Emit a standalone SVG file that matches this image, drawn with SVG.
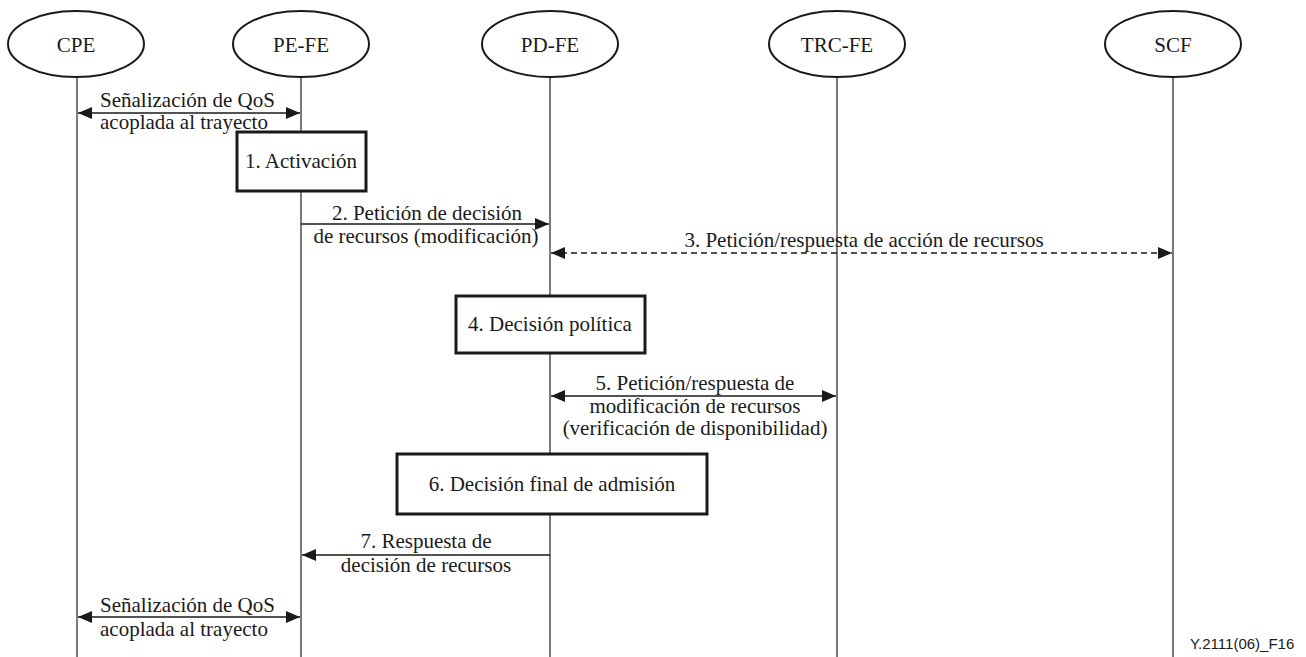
<svg xmlns="http://www.w3.org/2000/svg" width="1306" height="657" viewBox="0 0 1306 657">
<style>
.ent{fill:#fff;stroke:#1a1a1a;stroke-width:2}
.life{stroke:#333;stroke-width:1.3;fill:none}
.box{fill:#fff;stroke:#1a1a1a;stroke-width:3}
.msg{stroke:#1a1a1a;stroke-width:1.3;fill:none}
.dash{stroke-dasharray:6,4}
.t{font-family:'Liberation Serif','Times New Roman',serif;font-size:21px;fill:#1a1a1a}
.c{text-anchor:middle}
.ref{font-family:'Liberation Sans',Arial,sans-serif;font-size:15px;fill:#1a1a1a}
</style>
<defs>
<marker id="ah" viewBox="0 0 14 12" refX="14" refY="6" markerWidth="14" markerHeight="12" markerUnits="userSpaceOnUse" orient="auto-start-reverse">
<path d="M0,0 L14,6 L0,12 z" fill="#1a1a1a"/>
</marker>
</defs>
<rect width="1306" height="657" fill="#fff"/>
<g id="lifelines">
<line class="life" x1="77" y1="76" x2="77" y2="657"/>
<line class="life" x1="301" y1="76" x2="301" y2="657"/>
<line class="life" x1="550" y1="76" x2="550" y2="657"/>
<line class="life" x1="837" y1="76" x2="837" y2="657"/>
<line class="life" x1="1173" y1="76" x2="1173" y2="657"/>
</g>
<g id="CPE"><ellipse class="ent" cx="76" cy="44" rx="68" ry="33"/><text class="t c" x="76" y="52">CPE</text></g>
<g id="PE-FE"><ellipse class="ent" cx="301" cy="44" rx="68" ry="33"/><text class="t c" x="301" y="52">PE-FE</text></g>
<g id="PD-FE"><ellipse class="ent" cx="550" cy="44" rx="68" ry="33"/><text class="t c" x="550" y="52">PD-FE</text></g>
<g id="TRC-FE"><ellipse class="ent" cx="837" cy="44" rx="68" ry="33"/><text class="t c" x="837" y="52">TRC-FE</text></g>
<g id="SCF"><ellipse class="ent" cx="1173" cy="44" rx="68" ry="33"/><text class="t c" x="1173" y="52">SCF</text></g>
<g id="connectors">
<line class="msg" x1="78" y1="113" x2="300" y2="113" marker-start="url(#ah)" marker-end="url(#ah)"/>
<line class="msg" x1="301" y1="224" x2="549" y2="224" marker-end="url(#ah)"/>
<line class="msg dash" x1="551" y1="253" x2="1172" y2="253" marker-start="url(#ah)" marker-end="url(#ah)"/>
<line class="msg" x1="551" y1="396" x2="836" y2="396" marker-start="url(#ah)" marker-end="url(#ah)"/>
<line class="msg" x1="550" y1="555" x2="302" y2="555" marker-end="url(#ah)"/>
<line class="msg" x1="78" y1="617" x2="300" y2="617" marker-start="url(#ah)" marker-end="url(#ah)"/>
</g>
<g id="labels">
<text class="t" x="100" y="107">Señalización de QoS</text>
<text class="t" x="100" y="129">acoplada al trayecto</text>
<text class="t c" x="427" y="220">2. Petición de decisión</text>
<text class="t c" x="426" y="243">de recursos (modificación)</text>
<text class="t c" x="864" y="247">3. Petición/respuesta de acción de recursos</text>
<text class="t c" x="695" y="390">5. Petición/respuesta de</text>
<text class="t c" x="695" y="413">modificación de recursos</text>
<text class="t c" x="695" y="435">(verificación de disponibilidad)</text>
<text class="t c" x="426" y="548">7. Respuesta de</text>
<text class="t c" x="426" y="572">decisión de recursos</text>
<text class="t" x="100" y="612">Señalización de QoS</text>
<text class="t" x="100" y="636">acoplada al trayecto</text>
</g>
<g id="act1"><rect class="box" x="237" y="132" width="129" height="59"/><text class="t c" x="301" y="168">1. Activación</text></g>
<g id="dec4"><rect class="box" x="456" y="296" width="189" height="57"/><text class="t c" x="550" y="331">4. Decisión política</text></g>
<g id="dec6"><rect class="box" x="397" y="454" width="310" height="60"/><text class="t c" x="552" y="491">6. Decisión final de admisión</text></g>
<text class="ref" x="1190" y="649">Y.2111(06)_F16</text>
</svg>
